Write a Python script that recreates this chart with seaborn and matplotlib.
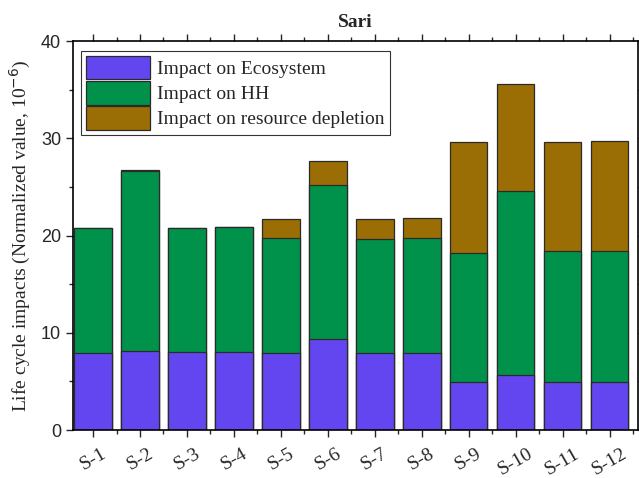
import matplotlib
matplotlib.use("Agg")
import matplotlib.pyplot as plt
from matplotlib.patches import Patch
from matplotlib.ticker import MultipleLocator, FixedLocator
import seaborn as sns
import pandas as pd
import numpy as np

categories = ["S-1", "S-2", "S-3", "S-4", "S-5", "S-6", "S-7", "S-8", "S-9", "S-10", "S-11", "S-12"]
ecosystem = [7.9, 8.1, 8.0, 8.0, 7.9, 9.35, 7.9, 7.9, 4.95, 5.65, 4.95, 4.95]
hh = [12.9, 18.5, 12.8, 12.9, 11.8, 15.8, 11.75, 11.85, 13.3, 18.95, 13.45, 13.45]
resource = [0.0, 0.1, 0.0, 0.0, 1.95, 2.5, 2.0, 2.05, 11.4, 11.0, 11.2, 11.3]

series_names = ["Impact on Ecosystem", "Impact on HH", "Impact on resource depletion"]
colors = ["#6446f0", "#00914a", "#9a6e04"]

sns.set_style("ticks")
plt.rcParams["font.family"] = ["Liberation Serif", "DejaVu Serif"]
plt.rcParams["axes.unicode_minus"] = False

eco = np.array(ecosystem)
eh = eco + np.array(hh)
tot = eh + np.array(resource)
df = pd.DataFrame({"cat": categories, "eco": eco, "eh": eh, "tot": tot})

fig = plt.figure(figsize=(6.39, 4.78), dpi=100)
ax = fig.add_axes([0.114, 0.1004, 0.884, 0.8138])

for col, c in zip(["tot", "eh", "eco"], colors[::-1]):
    sns.barplot(data=df, x="cat", y=col, order=categories, color=c, saturation=1,
                width=0.8, edgecolor="#2a2a2a", linewidth=0.9, ax=ax)

ax.set_xlim(-0.43, 11.6)
ax.set_ylim(0, 40)
ax.set_xlabel("")
ax.set_ylabel("Life cycle impacts (Normalized value, 10$^{-6}$)", fontsize=14, labelpad=6)
ax.set_title("Sari", fontsize=14, fontweight="bold", pad=10)

ax.yaxis.set_major_locator(MultipleLocator(10))
ax.yaxis.set_minor_locator(MultipleLocator(5))
ax.xaxis.set_minor_locator(FixedLocator(np.arange(-0.5, 12, 1)))
for lab in ax.get_yticklabels():
    lab.set_family(["Liberation Sans", "DejaVu Sans"])
ax.tick_params(axis="y", which="major", labelsize=13, direction="out", length=5, width=1,
               right=True)
ax.tick_params(axis="y", which="minor", direction="out", length=3, width=1, right=True)
ax.tick_params(axis="x", which="major", labelsize=14, direction="out", length=5, width=1,
               top=True, labelrotation=30, pad=6)
ax.tick_params(axis="x", which="minor", direction="out", length=3, width=1, top=True)
for lab in ax.get_xticklabels():
    lab.set_ha("center")
for s in ax.spines.values():
    s.set_visible(True)
    s.set_linewidth(1.2)
    s.set_color("black")

handles = [Patch(facecolor=c, edgecolor="#2a2a2a", linewidth=0.9) for c in colors]
leg = ax.legend(handles, series_names, loc="upper left", bbox_to_anchor=(0.007, 0.985),
                fontsize=14, frameon=True, fancybox=False, edgecolor="black",
                handlelength=3.3, handleheight=1.5, labelspacing=0.08, borderpad=0.25,
                handletextpad=0.4, borderaxespad=0.2)
leg.get_frame().set_linewidth(0.8)

fig.savefig("out.png", dpi=100)
